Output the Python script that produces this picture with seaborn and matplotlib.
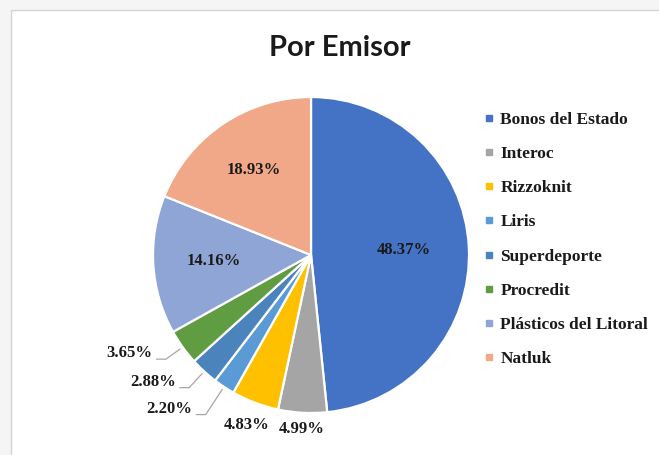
import numpy as np
import matplotlib.pyplot as plt
import seaborn as sns
from matplotlib.lines import Line2D
from matplotlib.patches import Rectangle

# =========================================================
# DATA
# =========================================================
emisores = [
    "Bonos del Estado",
    "Interoc",
    "Rizzoknit",
    "Liris",
    "Superdeporte",
    "Procredit",
    "Plásticos del Litoral",
    "Natluk",
]
porcentajes = [48.37, 4.99, 4.83, 2.20, 2.88, 3.65, 14.16, 18.93]

colores = [
    "#4472C4",
    "#A5A5A5",
    "#FFC000",
    "#5B9BD5",
    "#4B84BC",
    "#609C42",
    "#8FA5D6",
    "#F0A888",
]

# label placement: (kind, distance from centre in radii)
posicion = {
    "Bonos del Estado": ("in", 0.59),
    "Interoc": ("out", 1.10),
    "Rizzoknit": ("out", 1.15),
    "Liris": ("leader", 1.21),
    "Superdeporte": ("leader", 1.14),
    "Procredit": ("leader", 1.13),
    "Plásticos del Litoral": ("in", 0.62),
    "Natluk": ("in", 0.65),
}

# =========================================================
# STYLE
# =========================================================
sns.set_theme(style="white")
plt.rcParams["font.family"] = ["Liberation Serif", "DejaVu Serif"]
texto = "#1a1a1a"

fig = plt.figure(figsize=(6.59, 4.55), dpi=100)
fig.patch.set_facecolor("#f5f5f5")
fig.patches.append(Rectangle((11 / 659, -0.1), 1.0, 1.1 - 10 / 455,
                             transform=fig.transFigure, facecolor="white",
                             edgecolor="#d4d4d4", linewidth=1, zorder=-10))

# =========================================================
# PIE
# =========================================================
ax = fig.add_axes([0.2322, 0.0923, 0.4795, 0.6945])
wedges, _ = ax.pie(
    porcentajes,
    colors=colores,
    startangle=90,
    counterclock=False,
    radius=1,
    wedgeprops=dict(edgecolor="white", linewidth=1.6),
)
ax.set_xlim(-1, 1)
ax.set_ylim(-1, 1)

for w, nombre, valor in zip(wedges, emisores, porcentajes):
    ang = np.deg2rad((w.theta1 + w.theta2) / 2)
    kind, d = posicion[nombre]
    etiqueta = f"{valor:.2f}%"
    if kind in ("in", "out"):
        ax.text(d * np.cos(ang), d * np.sin(ang), etiqueta, ha="center",
                va="center", fontsize=12, weight="bold", color=texto)
    else:
        x0, y0 = 1.02 * np.cos(ang), 1.02 * np.sin(ang)
        x1, y1 = d * np.cos(ang), d * np.sin(ang)
        x2 = x1 - 0.06
        ax.plot([x0, x1, x2], [y0, y1, y1], color="#a6a6a6", lw=0.9,
                clip_on=False)
        ax.text(x2 - 0.025, y1 + 0.038, etiqueta, ha="right", va="center",
                fontsize=12, weight="bold", color=texto)

# =========================================================
# TITLE + LEGEND
# =========================================================
fig.text(340 / 659, 1 - 48 / 455, "Por Emisor", ha="center", va="center",
         fontsize=21, weight="bold", family=["Lato", "DejaVu Sans"],
         color=texto)

handles = [Line2D([], [], marker="s", linestyle="", markersize=4.5,
                  markerfacecolor=c, markeredgecolor=c) for c in colores]
fig.legend(
    handles, emisores,
    loc="upper left",
    bbox_to_anchor=(469 / 659, 1 - 96 / 455),
    frameon=False,
    prop=dict(weight="bold", size=12.5),
    handlelength=0.5,
    handletextpad=0.4,
    labelspacing=1.04,
    labelcolor=texto,
)

fig.savefig("out.png", dpi=100)
